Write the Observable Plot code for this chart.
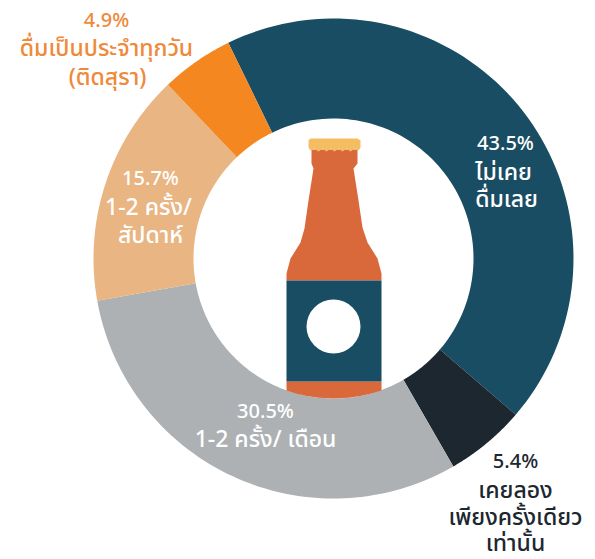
<!DOCTYPE html>
<html><head><meta charset="utf-8">
<script src="https://cdn.jsdelivr.net/npm/d3@7"></script>
<script src="https://cdn.jsdelivr.net/npm/@observablehq/plot@0.6"></script>
<style>html,body{margin:0;padding:0;background:#fff}svg{display:block}</style>
</head><body><div id="chart"></div>
<script>
const categories = ["ไม่เคยดื่มเลย","เคยลองเพียงครั้งเดียวเท่านั้น","1-2 ครั้ง/ เดือน","1-2 ครั้ง/ สัปดาห์","ดื่มเป็นประจำทุกวัน (ติดสุรา)"];
const values = [43.5,5.4,30.5,15.7,4.9];
const colors = ["#194d63","#1d2730","#adb1b3","#e8b583","#f58720"];
const lineTexts = ["43.5%","ไม่เคย","ดื่มเลย","5.4%","เคยลอง","เพียงครั้งเดียว","เท่านั้น","30.5%","1-2 ครั้ง/ เดือน","15.7%","1-2 ครั้ง/","สัปดาห์","4.9%","ดื่มเป็นประจำทุกวัน","(ติดสุรา)"];
const lineX = [505,503,506,515,515,515,515,265,265,150,148,150,106,106,107];
const lineY = [143,172,199,461,490,517,543,411,439,178,207,235,20,48,77];
const lineColor = ["#fff","#fff","#fff","#1d2730","#1d2730","#1d2730","#1d2730","#fff","#fff","#fff","#fff","#fff","#ee8a3a","#ee8a3a","#ee8a3a"];
const lineSize = [20,23,23,20,23,23,23,20,23,20,23,23,20,23,23];

const cx = 333, cy = 258, R = 240, r0 = 140, startDeg = -26;
const pie = d3.pie().sort(null).startAngle(startDeg*Math.PI/180).endAngle((startDeg+360)*Math.PI/180)(values);
const slicePts = [];
pie.forEach((s,i)=>{
  const n = 80, ring = [];
  for(let k=0;k<=n;k++){const a=s.startAngle+(s.endAngle-s.startAngle)*k/n; ring.push([cx+R*Math.sin(a),cy-R*Math.cos(a)]);}
  for(let k=n;k>=0;k--){const a=s.startAngle+(s.endAngle-s.startAngle)*k/n; ring.push([cx+r0*Math.sin(a),cy-r0*Math.cos(a)]);}
  ring.forEach(p=>slicePts.push({x:p[0],y:p[1],id:categories[i],color:colors[i]}));
});

const bottleBody = [[311,149],[311,163],[313,168],[308,200],[304,228],[300,242],[290,258],[286,273],[286,280],[381,280],[381,273],[377,258],[367,242],[362,227],[358,200],[353,168],[357,163],[357,149]];
const bottleCap = [[310,138],[357,138],[360,140],[360,147],[358,150],[354,148],[350,151],[346,148],[342,151],[338,148],[334,151],[330,148],[326,151],[322,148],[318,151],[314,148],[310,150],[308,147],[308,140]];
const bottleLabel = [[286,280],[381,280],[381,381],[286,381]];
const bottleBase = [[286,381],[381,381],[381,390],[371,393],[360,395.5],[348,397.2],[333,398],[318,397.2],[306,395.5],[295,393],[286,390]];
const toPts = (a,color,id)=>a.map(p=>({x:p[0],y:p[1],color,id}));
const shapes = [
  ...toPts(bottleBody,"#d9693a","body"),
  ...toPts(bottleBase,"#d9693a","base"),
  ...toPts(bottleLabel,"#194d63","label"),
  ...toPts(bottleCap,"#f5bd62","cap")
];
const seal = [{x:333,y:326}];

const table = lineTexts.map((t,i)=>({t,x:lineX[i],y:lineY[i],color:lineColor[i],size:lineSize[i]}));
const sized = s => table.filter(d=>d.size===s);

const plot = Plot.plot({
  width:595,height:559,margin:0,
  x:{domain:[0,595],range:[0,595],axis:null},
  y:{domain:[0,559],range:[0,559],axis:null},
  color:{type:"identity"},
  style:{background:"#fff",fontFamily:"'Noto Sans Thai','Noto Sans',sans-serif"},
  marks:[
    Plot.line(slicePts,{x:"x",y:"y",z:"id",fill:"color",stroke:null,curve:"linear-closed"}),
    Plot.line(shapes,{x:"x",y:"y",z:"id",fill:"color",stroke:null,curve:"linear-closed"}),
    Plot.dot(seal,{x:"x",y:"y",r:27,fill:"#fff",stroke:null}),
    Plot.text(sized(20),{x:"x",y:"y",text:"t",fill:"color",fontSize:20,fontWeight:500,textAnchor:"middle"}),
    Plot.text(sized(23),{x:"x",y:"y",text:"t",fill:"color",fontSize:23,fontWeight:500,textAnchor:"middle"})
  ]
});
document.getElementById("chart").appendChild(plot);
</script></body></html>
